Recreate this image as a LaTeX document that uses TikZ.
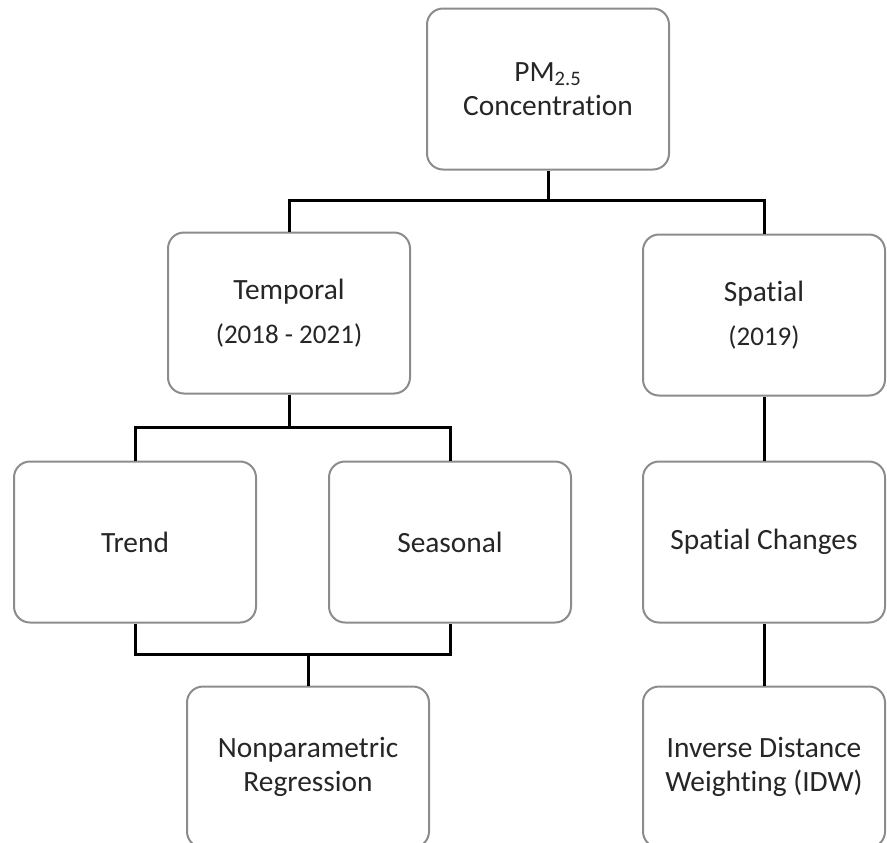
\documentclass[tikz,border=0pt]{standalone}
\usepackage{fontspec}
\setmainfont[Ligatures=NoCommon]{Carlito}
\usepackage{tikz}
\usetikzlibrary{positioning}

\tikzset{
  box/.style={draw=black!45, line width=1pt, rounded corners=8pt, fill=white,
    minimum width=121pt, minimum height=80.5pt, align=center, text=black!85,
    font=\fontsize{14.7}{17}\selectfont},
  link/.style={draw=black, line width=1.5pt}
}

\begin{document}
\begin{tikzpicture}[x=0.5pt,y=-0.5pt]
  \useasboundingbox (0,0) rectangle (887,842);
  % boxes, placed at pixel positions of the scheme
  \node[box] (conc) at (548,89) {PM\textsubscript{2.5}\\Concentration};
  \node[box] (temporal) at (289,313) {Temporal\\[5pt]{\fontsize{13.5}{16}\selectfont (2018 - 2021)}};
  \node[box] (spatial) at (764,315) {Spatial\\[5pt]{\fontsize{13.5}{16}\selectfont (2019)}};
  \node[box] (trend) at (135,542) {Trend};
  \node[box] (seasonal) at (450,542) {Seasonal};
  \node[box] (spchange) at (764,542) {Spatial Changes};
  \node[box] (nonpar) at (308,767) {Nonparametric\\Regression};
  \node[box] (idw) at (764,767) {Inverse Distance\\Weighting (IDW)};
  % junctions
  \coordinate (j1) at (548,200);
  \coordinate (j2) at (289,427);
  \coordinate (j3) at (308,654);
  % connectors
  \draw[link] (conc.south) -- (j1);
  \draw[link] (temporal.north) |- (j1) -| (spatial.north);
  \draw[link] (temporal.south) -- (j2);
  \draw[link] (trend.north) |- (j2) -| (seasonal.north);
  \draw[link] (trend.south) |- (j3) -| (seasonal.south);
  \draw[link] (j3) -- (nonpar.north);
  \draw[link] (spatial.south) -- (spchange.north);
  \draw[link] (spchange.south) -- (idw.north);
\end{tikzpicture}
\end{document}
